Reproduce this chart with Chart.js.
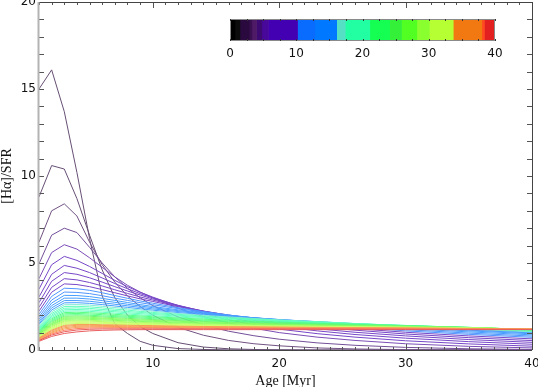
<!DOCTYPE html>
<html>
<head>
<meta charset="utf-8">
<script src="https://cdn.jsdelivr.net/npm/chart.js@4.4.1/dist/chart.umd.min.js"></script>
<style>
  html, body { margin: 0; padding: 0; background: #fff; }
  #wrap { position: relative; width: 538px; height: 387px; }
  #wrap canvas { position: absolute; left: 0; top: 0; }
</style>
</head>
<body>
<div id="wrap">
  <canvas id="ratioChart" width="538" height="387"></canvas>
  <canvas id="colourBar" width="538" height="387"></canvas>
</div>
<script>
const ages = [1, 2, 3, 4, 5, 6, 7, 8, 9, 10, 12, 14, 16, 18, 20, 23, 26, 30, 35, 40];

// [Ha]/SFR, one array per model (colour-bar value 1..40)
const curve01 = [15.0, 16.1, 13.7, 10.2, 6.4, 3.1, 1.5, 0.95, 0.5, 0.27, 0.08, 0.03, 0.01, 0, 0, 0, 0, 0, 0, 0];
const curve02 = [8.8, 10.6, 10.4, 8.7, 6.6, 4.6, 3.0, 2.0, 1.35, 0.95, 0.42, 0.17, 0.07, 0.03, 0.01, 0, 0, 0, 0, 0];
const curve03 = [6.2, 8.0, 8.4, 7.7, 6.2, 4.9, 3.9, 3.1, 2.5, 2.0, 1.3, 0.85, 0.55, 0.36, 0.24, 0.12, 0.06, 0.02, 0.01, 0];
const curve04 = [4.95, 6.6, 7.0, 6.75, 5.9, 5.0, 4.2, 3.55, 3.0, 2.55, 1.9, 1.43, 1.08, 0.82, 0.62, 0.41, 0.27, 0.15, 0.07, 0.03];
const curve05 = [4.1, 5.6, 6.05, 5.8, 5.3, 4.75, 4.2, 3.72, 3.33, 3.0, 2.4, 1.92, 1.55, 1.25, 1.0, 0.74, 0.55, 0.36, 0.21, 0.12];
const curve06 = [3.5, 4.9, 5.38, 5.15, 4.8, 4.4, 4.0, 3.64, 3.32, 3.04, 2.53, 2.1, 1.74, 1.45, 1.2, 0.94, 0.74, 0.53, 0.35, 0.22];
const curve07 = [3.05, 4.35, 4.86, 4.7, 4.45, 4.14, 3.82, 3.52, 3.24, 3.0, 2.57, 2.2, 1.88, 1.6, 1.36, 1.1, 0.89, 0.68, 0.48, 0.33];
const curve08 = [2.72, 3.95, 4.45, 4.35, 4.15, 3.9, 3.64, 3.39, 3.16, 2.94, 2.56, 2.23, 1.94, 1.7, 1.48, 1.22, 1.02, 0.81, 0.6, 0.44];
const curve09 = [2.45, 3.6, 4.1, 4.03, 3.88, 3.68, 3.46, 3.25, 3.05, 2.87, 2.53, 2.24, 1.99, 1.77, 1.57, 1.33, 1.14, 0.92, 0.71, 0.54];
const curve10 = [2.23, 3.32, 3.8, 3.76, 3.64, 3.47, 3.29, 3.11, 2.94, 2.79, 2.49, 2.23, 2.01, 1.81, 1.64, 1.42, 1.23, 1.02, 0.81, 0.64];
const curve11 = [2.05, 3.08, 3.55, 3.52, 3.43, 3.29, 3.13, 2.97, 2.82, 2.69, 2.43, 2.21, 2.01, 1.84, 1.68, 1.48, 1.31, 1.1, 0.9, 0.73];
const curve12 = [1.9, 2.87, 3.33, 3.31, 3.24, 3.12, 2.98, 2.85, 2.72, 2.6, 2.38, 2.18, 2.0, 1.85, 1.71, 1.53, 1.37, 1.17, 0.97, 0.8];
const curve13 = [1.77, 2.7, 3.14, 3.13, 3.07, 2.97, 2.85, 2.73, 2.61, 2.5, 2.31, 2.14, 1.98, 1.85, 1.73, 1.57, 1.42, 1.23, 1.04, 0.87];
const curve14 = [1.66, 2.55, 2.98, 2.98, 2.93, 2.84, 2.74, 2.63, 2.53, 2.43, 2.26, 2.11, 1.97, 1.85, 1.75, 1.6, 1.46, 1.28, 1.1, 0.93];
const curve15 = [1.56, 2.42, 2.84, 2.84, 2.8, 2.72, 2.63, 2.54, 2.45, 2.36, 2.21, 2.07, 1.95, 1.85, 1.75, 1.62, 1.49, 1.32, 1.14, 0.98];
const curve16 = [1.48, 2.3, 2.71, 2.72, 2.68, 2.61, 2.53, 2.45, 2.37, 2.29, 2.15, 2.03, 1.93, 1.83, 1.74, 1.63, 1.51, 1.35, 1.18, 1.02];
const curve17 = [1.4, 2.2, 2.6, 2.61, 2.58, 2.51, 2.44, 2.37, 2.3, 2.23, 2.1, 1.99, 1.9, 1.81, 1.73, 1.63, 1.52, 1.37, 1.21, 1.05];
const curve18 = [1.33, 2.1, 2.5, 2.51, 2.48, 2.42, 2.35, 2.29, 2.22, 2.16, 2.05, 1.95, 1.86, 1.78, 1.71, 1.62, 1.52, 1.39, 1.24, 1.08];
const curve19 = [1.27, 2.02, 2.4, 2.42, 2.39, 2.33, 2.27, 2.21, 2.16, 2.1, 2.0, 1.91, 1.83, 1.76, 1.69, 1.61, 1.52, 1.4, 1.26, 1.1];
const curve20 = [1.21, 1.94, 2.31, 2.33, 2.3, 2.25, 2.2, 2.14, 2.09, 2.04, 1.95, 1.87, 1.8, 1.73, 1.67, 1.59, 1.51, 1.41, 1.28, 1.12];
const curve21 = [1.16, 1.86, 2.23, 2.25, 2.22, 2.17, 2.12, 2.07, 2.02, 1.97, 1.89, 1.82, 1.75, 1.69, 1.63, 1.56, 1.49, 1.41, 1.29, 1.14];
const curve22 = [1.11, 1.79, 2.15, 2.17, 2.14, 2.1, 2.05, 2.0, 1.96, 1.91, 1.84, 1.77, 1.71, 1.65, 1.6, 1.54, 1.48, 1.4, 1.3, 1.15];
const curve23 = [1.06, 1.72, 2.08, 2.1, 2.07, 2.03, 1.98, 1.94, 1.9, 1.86, 1.79, 1.72, 1.67, 1.62, 1.57, 1.51, 1.46, 1.39, 1.3, 1.16];
const curve24 = [1.02, 1.66, 2.01, 2.03, 2.0, 1.96, 1.92, 1.88, 1.84, 1.8, 1.74, 1.68, 1.63, 1.58, 1.54, 1.49, 1.44, 1.38, 1.3, 1.17];
const curve25 = [0.98, 1.6, 1.94, 1.96, 1.94, 1.9, 1.86, 1.82, 1.78, 1.75, 1.69, 1.64, 1.59, 1.55, 1.51, 1.46, 1.42, 1.37, 1.29, 1.18];
const curve26 = [0.94, 1.54, 1.88, 1.9, 1.88, 1.84, 1.8, 1.77, 1.73, 1.7, 1.65, 1.6, 1.56, 1.52, 1.48, 1.44, 1.4, 1.36, 1.29, 1.18];
const curve27 = [0.9, 1.49, 1.82, 1.84, 1.82, 1.79, 1.75, 1.72, 1.68, 1.65, 1.6, 1.56, 1.52, 1.49, 1.46, 1.42, 1.39, 1.35, 1.28, 1.19];
const curve28 = [0.87, 1.44, 1.76, 1.78, 1.76, 1.73, 1.7, 1.67, 1.64, 1.61, 1.56, 1.52, 1.49, 1.46, 1.43, 1.4, 1.37, 1.34, 1.28, 1.19];
const curve29 = [0.84, 1.39, 1.7, 1.72, 1.71, 1.68, 1.65, 1.62, 1.59, 1.57, 1.52, 1.49, 1.46, 1.43, 1.41, 1.38, 1.35, 1.32, 1.27, 1.2];
const curve30 = [0.81, 1.34, 1.65, 1.67, 1.66, 1.63, 1.6, 1.58, 1.55, 1.53, 1.49, 1.46, 1.43, 1.41, 1.39, 1.36, 1.34, 1.31, 1.26, 1.2];
const curve31 = [0.78, 1.29, 1.59, 1.62, 1.61, 1.59, 1.56, 1.54, 1.52, 1.5, 1.46, 1.43, 1.41, 1.39, 1.37, 1.35, 1.33, 1.3, 1.26, 1.2];
const curve32 = [0.75, 1.24, 1.53, 1.57, 1.56, 1.54, 1.52, 1.5, 1.48, 1.46, 1.43, 1.4, 1.38, 1.37, 1.35, 1.33, 1.31, 1.29, 1.25, 1.2];
const curve33 = [0.72, 1.19, 1.47, 1.52, 1.51, 1.5, 1.48, 1.46, 1.45, 1.43, 1.4, 1.38, 1.36, 1.35, 1.33, 1.31, 1.3, 1.28, 1.24, 1.2];
const curve34 = [0.69, 1.14, 1.41, 1.47, 1.47, 1.45, 1.44, 1.42, 1.41, 1.4, 1.37, 1.35, 1.34, 1.33, 1.32, 1.3, 1.29, 1.27, 1.24, 1.2];
const curve35 = [0.66, 1.09, 1.35, 1.42, 1.42, 1.41, 1.4, 1.38, 1.37, 1.36, 1.34, 1.33, 1.31, 1.3, 1.29, 1.28, 1.27, 1.26, 1.23, 1.2];
const curve36 = [0.63, 1.03, 1.28, 1.36, 1.37, 1.36, 1.35, 1.34, 1.33, 1.33, 1.31, 1.3, 1.29, 1.28, 1.28, 1.27, 1.26, 1.24, 1.22, 1.2];
const curve37 = [0.6, 0.98, 1.21, 1.3, 1.32, 1.32, 1.31, 1.3, 1.3, 1.29, 1.28, 1.27, 1.27, 1.26, 1.26, 1.25, 1.24, 1.23, 1.21, 1.19];
const curve38 = [0.57, 0.92, 1.13, 1.23, 1.26, 1.27, 1.27, 1.26, 1.26, 1.26, 1.25, 1.25, 1.24, 1.24, 1.23, 1.23, 1.22, 1.21, 1.2, 1.19];
const curve39 = [0.54, 0.86, 1.05, 1.15, 1.19, 1.21, 1.21, 1.21, 1.21, 1.21, 1.21, 1.21, 1.2, 1.2, 1.2, 1.2, 1.19, 1.19, 1.18, 1.18];
const curve40 = [0.5, 0.78, 0.95, 1.04, 1.1, 1.13, 1.15, 1.16, 1.17, 1.17, 1.17, 1.17, 1.17, 1.17, 1.17, 1.17, 1.17, 1.17, 1.17, 1.17];

// axis tick labels
const xTicks = [10, 20, 30, 40];
const yTicks = [0, 5, 10, 15, 20];
const barTicks = [0, 10, 20, 30, 40];

// colour bar blocks: edges and the colour of each block
const barEdges = [0, 0.75, 1.5, 2.9, 3.3, 4.0, 4.8, 5.8, 10.2, 12.8, 16.1, 17.4, 21.1, 24.1, 25.9, 28.2, 30.1, 33.7, 38.0, 38.4, 40];
const barColours = ['#000000', '#0c0c0c', '#2a0a3e', '#3a0f52', '#4e1a66', '#3c0a70', '#48089a', '#4200b2',
  '#0a6cff', '#0078ff', '#55e0c6', '#22ffa2', '#14ff52', '#34f038', '#52ff22', '#8aff30', '#b6ff32',
  '#f27812', '#ff4a20', '#e22020'];

const curves = [curve01, curve02, curve03, curve04, curve05, curve06, curve07, curve08, curve09, curve10,
  curve11, curve12, curve13, curve14, curve15, curve16, curve17, curve18, curve19, curve20,
  curve21, curve22, curve23, curve24, curve25, curve26, curve27, curve28, curve29, curve30,
  curve31, curve32, curve33, curve34, curve35, curve36, curve37, curve38, curve39, curve40];

// colour of a curve: the colour bar block under its value, washed a bit
// towards white because the thin lines of the original look paler than the bar
function colourFor(v) {
  v = Math.max(v, 2);
  let hex = barColours[barColours.length - 1];
  for (let i = 0; i < barColours.length; i++) {
    if (v >= barEdges[i] && v < barEdges[i + 1]) { hex = barColours[i]; break; }
  }
  const n = parseInt(hex.slice(1), 16);
  const mix = c => Math.round(c + (255 - c) * 0.28);
  return `rgb(${mix(n >> 16)}, ${mix((n >> 8) & 255)}, ${mix(n & 255)})`;
}

const tickFont = { family: "'DejaVu Sans', sans-serif", size: 12 };
const titleFont = { family: "'Liberation Serif', 'Times New Roman', serif", size: 14, lineHeight: 1 };

// IDL-like boxed frame with inward ticks on all four sides
const frameTicks = {
  id: 'frameTicks',
  afterDraw(chart) {
    const { ctx, chartArea: a, scales: { x, y } } = chart;
    ctx.save();
    ctx.lineWidth = 1;
    ctx.strokeStyle = '#555';
    ctx.beginPath();
    for (let v = 1; v <= 40; v++) {
      const px = Math.round(x.getPixelForValue(v)) + 0.5;
      const len = v % 10 === 0 ? 6 : 3;
      ctx.moveTo(px, a.bottom); ctx.lineTo(px, a.bottom - len);
      ctx.moveTo(px, a.top); ctx.lineTo(px, a.top + len);
    }
    for (let v = 0; v <= 20; v++) {
      const py = Math.round(y.getPixelForValue(v)) + 0.5;
      ctx.moveTo(a.left, py); ctx.lineTo(a.left + 5, py);
      ctx.moveTo(a.right, py); ctx.lineTo(a.right - 5, py);
    }
    ctx.stroke();
    ctx.strokeStyle = '#444';
    ctx.beginPath();
    ctx.moveTo(a.left, a.bottom + 0.5); ctx.lineTo(a.right, a.bottom + 0.5);
    ctx.moveTo(a.left, a.top + 0.5); ctx.lineTo(a.right, a.top + 0.5);
    ctx.moveTo(a.right + 0.5, a.top); ctx.lineTo(a.right + 0.5, a.bottom);
    ctx.stroke();
    ctx.strokeStyle = '#b4b4b4';
    ctx.lineWidth = 2;
    ctx.beginPath();
    ctx.moveTo(a.left - 0.5, a.top); ctx.lineTo(a.left - 0.5, a.bottom + 1);
    ctx.stroke();
    ctx.restore();
  }
};

new Chart(document.getElementById('ratioChart'), {
  type: 'line',
  data: {
    datasets: curves.map((vals, i) => ({
      data: ages.map((a, j) => ({ x: a, y: vals[j] })),
      borderColor: colourFor(i + 1),
      borderWidth: 1,
      pointRadius: 0,
      tension: 0,
      order: curves.length - i
    }))
  },
  options: {
    responsive: false,
    animation: false,
    events: [],
    layout: { padding: { top: 2, right: 6, left: 0, bottom: 0 } },
    plugins: { legend: { display: false }, tooltip: { enabled: false } },
    scales: {
      x: {
        type: 'linear', min: 1, max: 40,
        afterBuildTicks: s => { s.ticks = xTicks.map(v => ({ value: v })); },
        afterFit: s => { s.height = 37; s.paddingLeft = 0; s.paddingRight = 0; },
        grid: { display: false, drawTicks: false },
        border: { display: false },
        ticks: { font: tickFont, color: '#111', padding: 7, maxRotation: 0 },
        title: { display: true, text: 'Age [Myr]', font: titleFont, color: '#111', padding: { top: 0, bottom: -1 } }
      },
      y: {
        type: 'linear', min: 0, max: 20,
        afterBuildTicks: s => { s.ticks = yTicks.map(v => ({ value: v })); },
        afterFit: s => { s.width = 39; s.paddingTop = 0; s.paddingBottom = 0; },
        grid: { display: false, drawTicks: false },
        border: { display: false },
        ticks: { font: tickFont, color: '#111', padding: 3 },
        title: { display: true, text: '[H\u03b1]/SFR', font: titleFont, color: '#111', padding: { top: 0, bottom: 0 } }
      }
    }
  },
  plugins: [frameTicks]
});

// colour bar frame and small ticks
const barFrame = {
  id: 'barFrame',
  afterDraw(chart) {
    const { ctx, chartArea: a, scales: { x } } = chart;
    ctx.save();
    ctx.strokeStyle = '#8a8a8a';
    ctx.lineWidth = 1;
    ctx.strokeRect(a.left + 0.5, a.top + 0.5, a.right - a.left - 1, a.bottom - a.top - 1);
    ctx.strokeStyle = '#333';
    ctx.beginPath();
    for (let v = 0; v <= 40; v += 2.5) {
      const px = Math.round(x.getPixelForValue(v)) + 0.5;
      ctx.moveTo(px, a.top); ctx.lineTo(px, a.top + 2);
      ctx.moveTo(px, a.bottom); ctx.lineTo(px, a.bottom - 2);
    }
    ctx.stroke();
    ctx.restore();
  }
};

new Chart(document.getElementById('colourBar'), {
  type: 'bar',
  data: {
    labels: [''],
    datasets: barColours.map((c, i) => ({
      data: [[barEdges[i], barEdges[i + 1]]],
      backgroundColor: c,
      borderWidth: 0,
      barPercentage: 1,
      categoryPercentage: 1,
      grouped: false
    }))
  },
  options: {
    indexAxis: 'y',
    responsive: false,
    animation: false,
    events: [],
    layout: { padding: { top: 19, left: 230, right: 43, bottom: 0 } },
    plugins: { legend: { display: false }, tooltip: { enabled: false } },
    scales: {
      x: {
        type: 'linear', min: 0, max: 40,
        afterBuildTicks: s => { s.ticks = barTicks.map(v => ({ value: v })); },
        afterFit: s => { s.height = 387 - 41; s.paddingLeft = 0; s.paddingRight = 0; },
        grid: { display: false, drawTicks: false },
        border: { display: false },
        ticks: { font: tickFont, color: '#111', padding: 6, maxRotation: 0 }
      },
      y: { display: false }
    }
  },
  plugins: [barFrame]
});
</script>
</body>
</html>
